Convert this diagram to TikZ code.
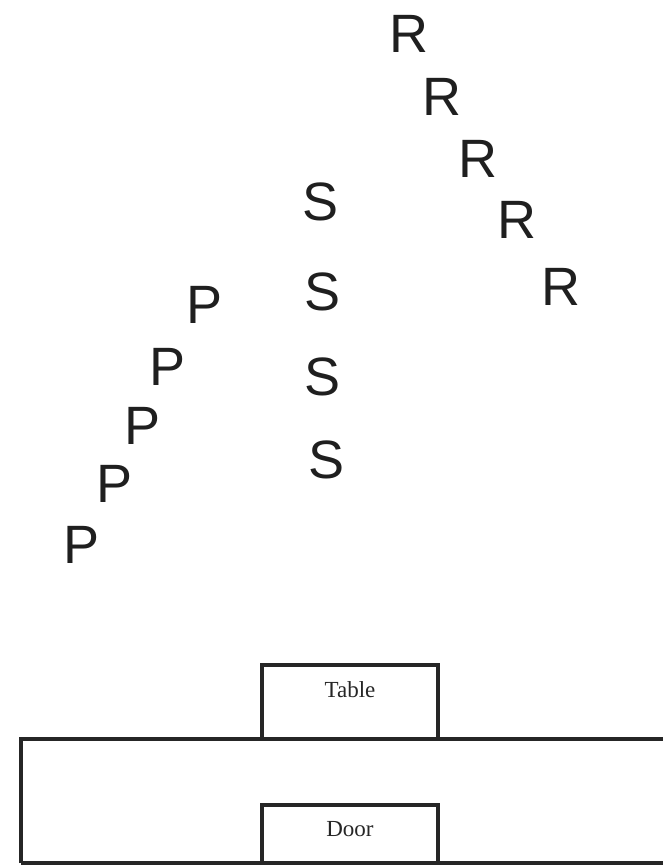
\documentclass[tikz,border=0pt]{standalone}
\usepackage{fontspec}
\setmainfont{Liberation Serif}
\newfontfamily\lettersans{Liberation Sans}
\begin{document}
\begin{tikzpicture}[x=1pt,y=-1pt,
  letter/.style={font=\lettersans\fontsize{54}{54}\selectfont, inner sep=0pt, anchor=base, text=black!88},
  boxlabel/.style={font=\fontsize{23}{23}\selectfont, inner sep=0pt, anchor=base, text=black!85},
  wall/.style={draw=black!85, line width=3.6pt}]
\useasboundingbox (0,0) rectangle (662,865);
% R diagonal
\node[letter] (r1) at (409,52) {R};
\node[letter] (r2) at (442,115) {R};
\node[letter] (r3) at (478,177) {R};
\node[letter] (r4) at (517,238) {R};
\node[letter] (r5) at (561,305) {R};
% S column
\node[letter] (s1) at (321,220) {S};
\node[letter] (s2) at (323,310) {S};
\node[letter] (s3) at (323,395) {S};
\node[letter] (s4) at (327,478) {S};
% P diagonal
\node[letter] (p1) at (205,323) {P};
\node[letter] (p2) at (168,385) {P};
\node[letter] (p3) at (143,444) {P};
\node[letter] (p4) at (115,502) {P};
\node[letter] (p5) at (82,563) {P};
% room
\draw[wall] (21,863) -- (21,739) -- (700,739);
\draw[wall] (21,863) -- (700,863);
\draw[wall] (262,739) -- (262,665) -- (438,665) -- (438,739);
\draw[wall] (262,863) -- (262,805) -- (438,805) -- (438,863);
\node[boxlabel] (table) at (350,697) {Table};
\node[boxlabel] (door) at (350,836) {Door};
\end{tikzpicture}
\end{document}
